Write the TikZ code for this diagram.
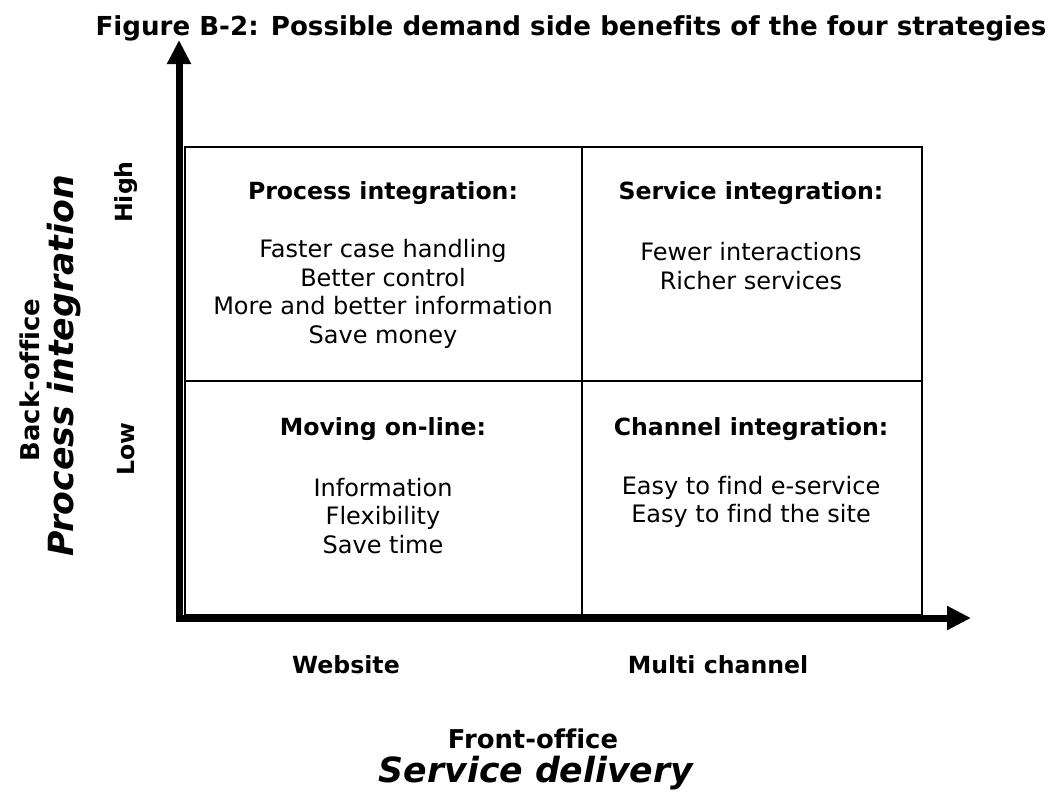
\documentclass[tikz,border=0pt]{standalone}
\usepackage{fontspec}
\setmainfont{DejaVu Sans}[Ligatures=NoCommon]
\usetikzlibrary{arrows.meta}
\tikzset{
  quadhead/.style={font=\fontsize{17.7}{21}\selectfont\bfseries, align=center},
  quadbody/.style={font=\fontsize{18}{21.4}\selectfont, align=center},
  axislabel/.style={font=\fontsize{17.7}{21}\selectfont\bfseries},
  axisname/.style={font=\fontsize{19.4}{23}\selectfont\bfseries},
  axistitle/.style={font=\fontsize{26}{30}\selectfont\bfseries\itshape},
  axis/.style={line width=5.25pt, -{Triangle[length=18pt,width=17pt]}},
}
\begin{document}
\begin{tikzpicture}[x=0.75pt,y=-0.75pt]
	\useasboundingbox (0,0) rectangle (1052,794);
	\node[font=\fontsize{19.6}{23}\selectfont\bfseries] (title) at (571,28) {Figure B-2: Possible demand side benefits of the four strategies};
	% the four quadrants
	\draw[line width=2pt] (185,147) rectangle (922,615);
	\draw[line width=2pt] (582,147) -- (582,615);
	\draw[line width=2pt] (185,381) -- (922,381);
	% axes
	\coordinate (origin) at (179,618);
	\coordinate (ytip) at (179,40);
	\coordinate (xtip) at (971,618);
	\draw[axis] ([yshift=2.6pt]origin) -- (ytip);
	\draw[axis] ([xshift=-2.6pt]origin) -- (xtip);
	% quadrant texts
	\node[quadhead] (pihead) at (383,193) {Process integration:};
	\node[quadbody] (pibody) at (383,294) {Faster case handling\\Better control\\More and better information\\Save money};
	\node[quadhead] (sihead) at (751,193) {Service integration:};
	\node[quadbody] (sibody) at (751,266) {Fewer interactions\\Richer services};
	\node[quadhead] (mohead) at (383,429) {Moving on-line:};
	\node[quadbody] (mobody) at (383,516) {Information\\Flexibility\\Save time};
	\node[quadhead] (cihead) at (751,429) {Channel integration:};
	\node[quadbody] (cibody) at (751,502) {Easy to find e-service\\Easy to find the site};
	% axis labels
	\node[axislabel,rotate=90] (high) at (126,192) {High};
	\node[axislabel,rotate=90] (low) at (126,449) {Low};
	\node[axisname,rotate=90] (back) at (30,380) {Back-office};
	\node[axistitle,rotate=90] (procint) at (64,366) {Process integration};
	\node[axislabel] (web) at (346,665) {Website};
	\node[axislabel] (multi) at (718,665) {Multi channel};
	\node[axisname] (front) at (533,739) {Front-office};
	\node[axistitle] (servdel) at (536,773) {Service delivery};
\end{tikzpicture}
\end{document}
